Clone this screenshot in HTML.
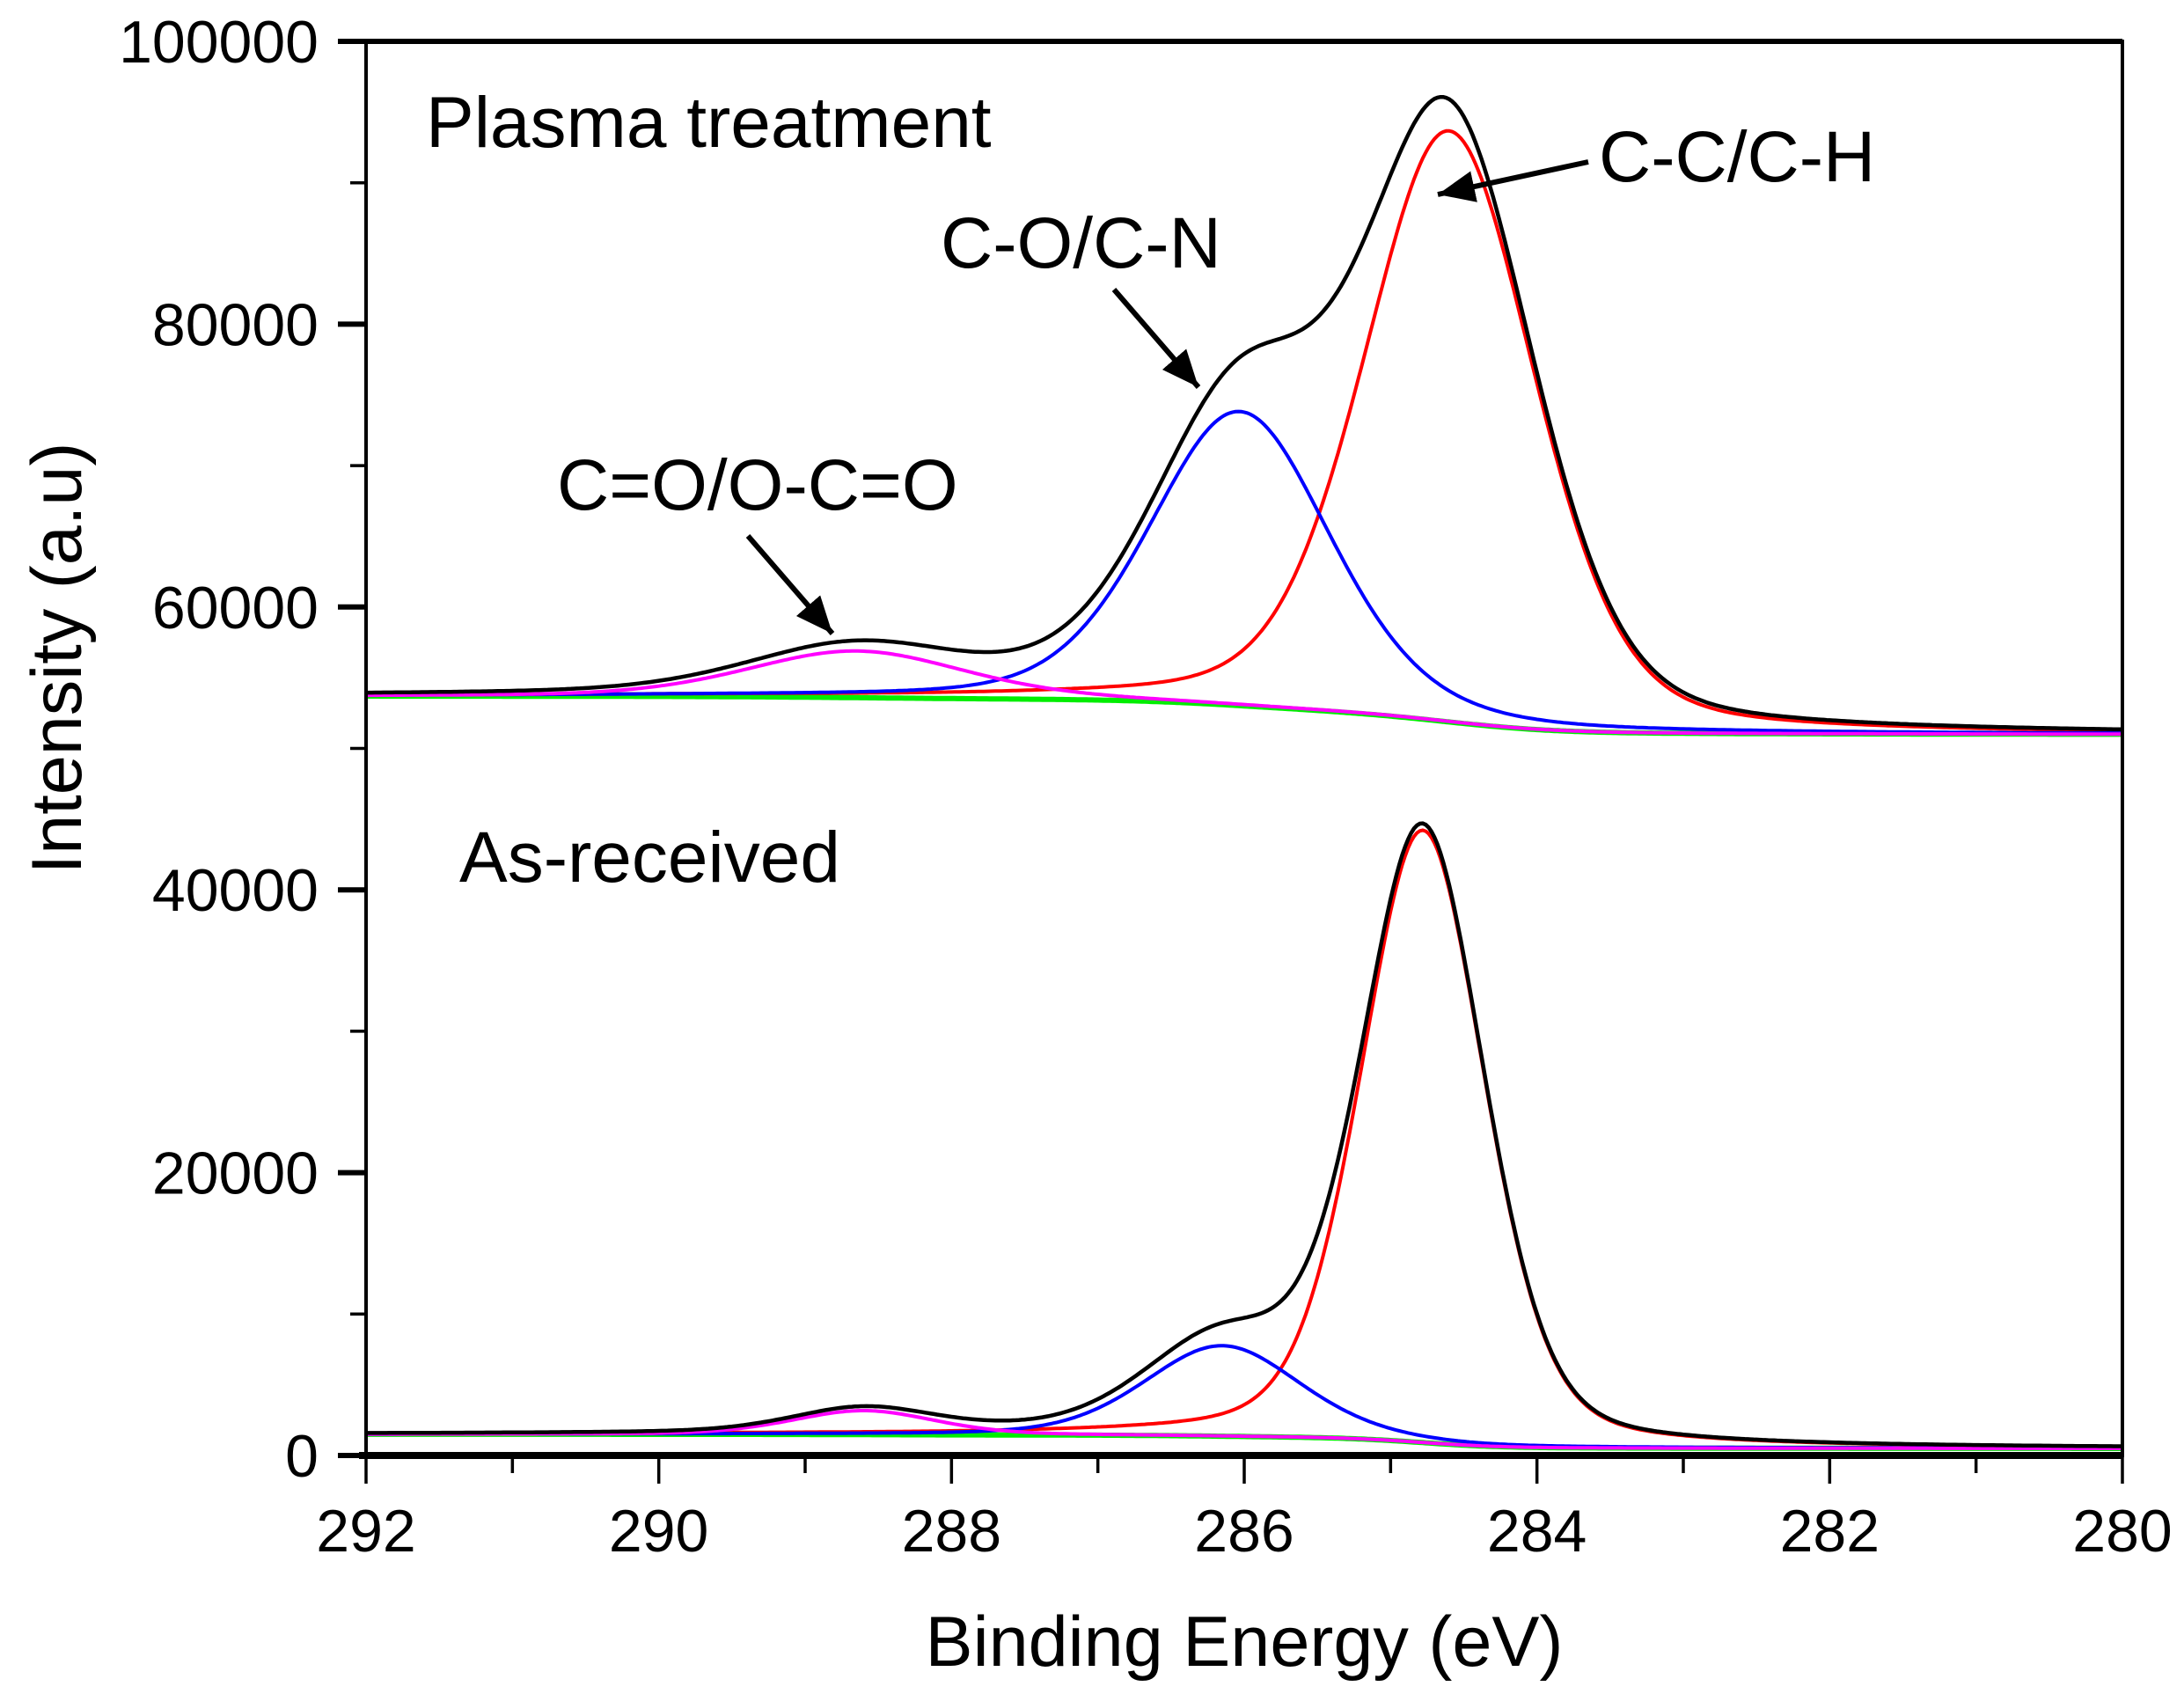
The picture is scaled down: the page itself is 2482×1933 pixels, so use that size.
<!DOCTYPE html>
<html><head><meta charset="utf-8"><style>
html,body{margin:0;padding:0;background:#fff;}
svg{display:block;font-family:"Liberation Sans",Arial,sans-serif;}
</style></head><body>
<svg id="chart" width="2482" height="1933" viewBox="0 0 2482 1933" xmlns="http://www.w3.org/2000/svg">
<defs><marker id="ah" markerWidth="8" markerHeight="8" refX="7" refY="4" orient="auto" markerUnits="strokeWidth"><path d="M0,1 L7,4 L0,7 Z" fill="#000"/></marker></defs>
<g id="curves"></g>
<g id="axes"></g>
<text x="484" y="167" font-size="82">Plasma treatment</text>
<text x="522" y="1002" font-size="82">As-received</text>
<text x="1069" y="304" font-size="82">C-O/C-N</text>
<text x="1817" y="206" font-size="82">C-C/C-H</text>
<text x="633" y="579" font-size="82">C=O/O-C=O</text>
<line x1="1266" y1="329" x2="1362" y2="440" stroke="#000" stroke-width="6" marker-end="url(#ah)"/>
<line x1="1805" y1="184" x2="1634" y2="221" stroke="#000" stroke-width="6" marker-end="url(#ah)"/>
<line x1="850" y1="609" x2="946" y2="720" stroke="#000" stroke-width="6" marker-end="url(#ah)"/>
<text x="1414" y="1893" font-size="81" text-anchor="middle">Binding Energy (eV)</text>
<text x="0" y="0" font-size="81" text-anchor="middle" transform="translate(92,748) rotate(-90)">Intensity (a.u)</text>
</svg>
<script>
// Plot geometry
const L=416,R=2412,T=47,B=1654;
// Tick data
const xTicks=[292,290,288,286,284,282,280];
const yTicks=[0,20000,40000,60000,80000,100000];
// Peak fit data: [center eV, height above background, FWHM]
const plasmaCenters=[284.6,286.03,288.65];
const plasmaHeights=[41800,20800,3300];
const plasmaWidths=[1.38,1.45,1.75];
const plasmaBg=[53700,51000]; // background at 292 eV and 280 eV
const asrecCenters=[284.78,286.15,288.6];
const asrecHeights=[43300,6400,1700];
const asrecWidths=[1.0,1.25,1.15];
const asrecBg=[1500,500];
const peakColors=['#ff0000','#0000ff','#ff00ff'];

const xs=e=>L+(292-e)/12*(R-L);
const ys=v=>B-v/100000*(B-T);
const NS="http://www.w3.org/2000/svg";
function mk(tag,attrs,parent){const el=document.createElementNS(NS,tag);for(const k in attrs)el.setAttribute(k,attrs[k]);parent.appendChild(el);return el;}
function gl(x,c,h,w){const d=(x-c)/(w/2);return h*(0.72*Math.pow(2,-d*d)+0.28/(1+d*d));}
const curves=document.getElementById('curves');
const axes=document.getElementById('axes');
function drawSample(name,cs,hs,ws,bg){
  const N=600,E=[];for(let i=0;i<=N;i++)E.push(280+12*i/N);
  const comp=E.map(e=>cs.map((c,j)=>gl(e,c,hs[j],ws[j])));
  const tot=comp.map(a=>a.reduce((s,v)=>s+v,0));
  const cum=[0];for(let i=1;i<=N;i++)cum.push(cum[i-1]+(tot[i]+tot[i-1])/2);
  const B0=E.map((e,i)=>bg[1]+(bg[0]-bg[1])*cum[i]/cum[N]);
  const path=f=>E.map((e,i)=>(i?'L':'M')+xs(e).toFixed(1)+','+ys(f(i)).toFixed(1)).join('');
  const g=mk('path',{d:path(i=>B0[i]),fill:'none',stroke:'#00ee00','stroke-width':6},curves);
  
  
  cs.forEach((c,j)=>{const p=mk('path',{d:path(i=>B0[i]+comp[i][j]),fill:'none',stroke:peakColors[j],'stroke-width':4},curves);
    
    });
  const env=mk('path',{d:path(i=>B0[i]+tot[i]),fill:'none',stroke:'#000','stroke-width':4.5},curves);
  
  
}
drawSample('plasma',plasmaCenters,plasmaHeights,plasmaWidths,plasmaBg);
drawSample('as-received',asrecCenters,asrecHeights,asrecWidths,asrecBg);
// frame
const fr=mk('rect',{x:L,y:T,width:R-L,height:B-T,fill:'none',stroke:'#000','stroke-width':4},axes);


const bx=mk('line',{x1:L-8,y1:B,x2:R,y2:B,stroke:'#000','stroke-width':8},axes);


const tx=mk('line',{x1:L,y1:T,x2:R,y2:T,stroke:'#000','stroke-width':6},axes);


for(let e=280;e<=292;e++){const maj=e%2===0;
  const t=mk('line',{x1:xs(e),y1:B,x2:xs(e),y2:B+(maj?32:20),stroke:'#000','stroke-width':3.5},axes);
  
  }
xTicks.forEach(v=>{const t=mk('text',{x:xs(v),y:1763,'font-size':68,'text-anchor':'middle'},axes);t.textContent=v;
  
  });
for(let v=0;v<=100000;v+=10000){const maj=v%20000===0;
  const t=mk('line',{x1:L,y1:ys(v),x2:L-(maj?32:18),y2:ys(v),stroke:'#000','stroke-width':maj?6:3.5},axes);
  
  }
yTicks.forEach(v=>{const t=mk('text',{x:362,y:ys(v)+24,'font-size':68,'text-anchor':'end'},axes);t.textContent=v;
  
  });
</script>
</body></html>
